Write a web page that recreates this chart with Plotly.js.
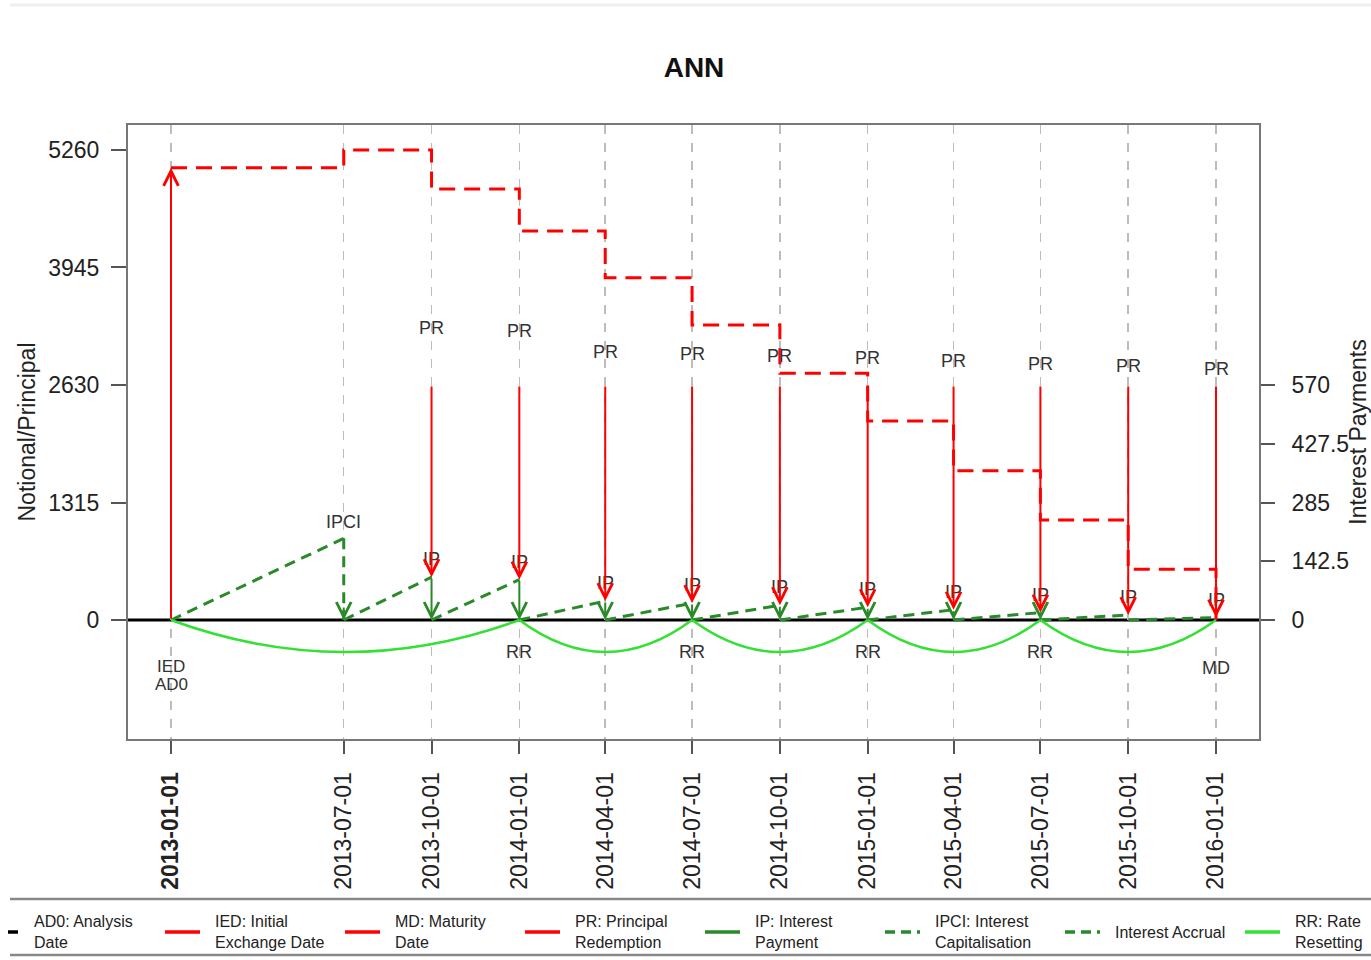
<!DOCTYPE html>
<html>
<head>
<meta charset="utf-8">
<script src="https://cdn.plot.ly/plotly-3.0.1.min.js"></script>
<style>html,body{margin:0;padding:0;background:#fff}#chart{width:1371px;height:960px}</style>
</head>
<body>
<div id="chart"></div>
<script>
// ---------------- data ----------------
const tickDates = ['2013-01-01','2013-07-01','2013-10-01','2014-01-01','2014-04-01','2014-07-01','2014-10-01','2015-01-01','2015-04-01','2015-07-01','2015-10-01','2016-01-01'];
const tickLabels = ['<b>2013-01-01</b>','2013-07-01','2013-10-01','2014-01-01','2014-04-01','2014-07-01','2014-10-01','2015-01-01','2015-04-01','2015-07-01','2015-10-01','2016-01-01'];

const notionalDates = ['2013-01-01','2013-07-01','2013-10-01','2014-01-01','2014-04-01','2014-07-01','2014-10-01','2015-01-01','2015-04-01','2015-07-01','2015-10-01','2016-01-01'];
const notionalValues = [5060,5260,4824,4353,3831,3301,2761,2227,1671,1119,567,0];

const iedDate = '2013-01-01';
const iedValue = 5060;
const ipciDate = '2013-07-01';
const ipciValue = 198;
const mdDate = '2016-01-01';

const ipDates = ['2013-10-01','2014-01-01','2014-04-01','2014-07-01','2014-10-01','2015-01-01','2015-04-01','2015-07-01','2015-10-01','2016-01-01'];
const ipValues = [104,98,46,41,36,31,25,18,12,6];
const prDates = ['2013-10-01','2014-01-01','2014-04-01','2014-07-01','2014-10-01','2015-01-01','2015-04-01','2015-07-01','2015-10-01','2016-01-01'];
const prTopValues = [570,570,570,570,570,570,570,570,570,570];

const accrualStart = ['2013-01-01','2013-07-01','2013-10-01','2014-01-01','2014-04-01','2014-07-01','2014-10-01','2015-01-01','2015-04-01','2015-07-01','2015-10-01'];
const accrualEnd = ['2013-07-01','2013-10-01','2014-01-01','2014-04-01','2014-07-01','2014-10-01','2015-01-01','2015-04-01','2015-07-01','2015-10-01','2016-01-01'];
const accrualValues = [198,104,98,46,41,36,31,25,18,12,6];

const rrStart = ['2013-01-01','2014-01-01','2014-07-01','2015-01-01','2015-07-01'];
const rrEnd = ['2014-01-01','2014-07-01','2015-01-01','2015-07-01','2016-01-01'];
const rrLabelDates = ['2014-01-01','2014-07-01','2015-01-01','2015-07-01'];

const leftTicks = [0,1315,2630,3945,5260];
const rightTicks = [0,142.5,285,427.5,570];
const rightTickLabels = ['0','142.5','285','427.5','570'];

const legendLabels = ['AD0: Analysis<br>Date','IED: Initial<br>Exchange Date','MD: Maturity<br>Date','PR: Principal<br>Redemption','IP: Interest<br>Payment','IPCI: Interest<br>Capitalisation','Interest Accrual','RR: Rate<br>Resetting'];
const legendColors = ['#000000','#ff0000','#ff0000','#ff0000','#2a8a2a','#2a8a2a','#2a8a2a','#33e033'];
const legendDash = ['solid','solid','solid','solid','solid','dash','dash','solid'];

// ---------------- styles / helpers ----------------
const FONT = 'Liberation Sans, Arial, Helvetica, sans-serif';
const RED = '#ff0000', DKGREEN = '#2a8a2a', LTGREEN = '#33e033', LBL = '#333333';
const ARC_DEPTH = -358;               // depth of rate-reset arcs (left axis units)
const t = d => Date.parse(d + 'T00:00:00Z');
const DAY = 86400000;
const xRange = [t('2013-01-01') - 45.06 * DAY, t('2016-01-01') + 45.06 * DAY];
const PL = 128, PR_ = 1259, PT = 125, PB = 739, W = 1371, H = 960;
const px2paperX = X => (X - PL) / (PR_ - PL);
const px2paperY = Y => (PB - Y) / (PB - PT);

// ---------------- traces ----------------
const traces = [];

// notional step (dashed red)
traces.push({
  x: notionalDates.map(t), y: notionalValues, yaxis: 'y', mode: 'lines',
  line: {color: RED, width: 3, dash: '16px,9px', shape: 'hv'}, hoverinfo: 'skip', showlegend: false
});

// interest accrual (dashed dark green), built from the accrual arrays
const ax_ = [], ay_ = [];
accrualStart.forEach((s, i) => { ax_.push(t(s), t(accrualEnd[i]), null); ay_.push(0, accrualValues[i], null); });
// IPCI dashed drop
ax_.push(t(ipciDate), t(ipciDate)); ay_.push(ipciValue, 0);
traces.push({
  x: ax_, y: ay_, yaxis: 'y2', mode: 'lines', connectgaps: false,
  line: {color: DKGREEN, width: 3, dash: '11px,7px'}, hoverinfo: 'skip', showlegend: false
});

// dummy trace to keep y2 active
traces.push({x: [t(mdDate)], y: [0], yaxis: 'y2', mode: 'markers', marker: {opacity: 0}, hoverinfo: 'skip', showlegend: false});

// ---------------- shapes ----------------
const shapes = [];
// rate-reset arcs
rrStart.forEach((s, i) => {
  const x0 = t(s), x1 = t(rrEnd[i]);
  shapes.push({type: 'path', xref: 'x', yref: 'y',
    path: `M${x0},0 Q${(x0 + x1) / 2},${2 * ARC_DEPTH} ${x1},0`,
    line: {color: LTGREEN, width: 2.5}, layer: 'above'});
});
// black zero line
shapes.push({type: 'line', xref: 'paper', yref: 'y', x0: 0, x1: 1, y0: 0, y1: 0, line: {color: '#000', width: 3}, layer: 'below'});
// faint top border
shapes.push({type: 'line', xref: 'paper', yref: 'paper', x0: px2paperX(10), x1: px2paperX(W), y0: px2paperY(5), y1: px2paperY(5), line: {color: '#eeeeee', width: 3}});
// legend frame
[899, 955].forEach(Y => shapes.push({type: 'line', xref: 'paper', yref: 'paper', x0: px2paperX(10), x1: px2paperX(W + 5), y0: px2paperY(Y), y1: px2paperY(Y), line: {color: '#888888', width: 2.5}}));

// ---------------- annotations ----------------
const ann = [];
const lab = (x, y, yref, text, yshift, size) => ann.push({x, y, xref: 'x', yref, text, showarrow: false, yshift,
  borderpad: 0, font: {family: FONT, size: size || 18, color: LBL}});

// labels
lab(t(iedDate), 0, 'y', 'IED', -46, 17);
lab(t(iedDate), 0, 'y', 'AD0', -64, 17);
lab(t(mdDate), 0, 'y', 'MD', -48);
rrLabelDates.forEach(d => lab(t(d), 0, 'y', 'RR', -32));
lab(t(ipciDate), ipciValue, 'y2', 'IPCI', 16);
ipDates.forEach((d, i) => lab(t(d), ipValues[i], 'y2', 'IP', 18));
prDates.forEach((d, i) => lab(t(d), prTopValues[i] + ipValues[i], 'y2', 'PR', 14));

const arrow = (x, y, yref, ay, color) => ann.push({
  x, y, xref: 'x', yref, ax: x, ay, axref: 'x', ayref: yref, text: '', showarrow: true,
  arrowhead: 5, arrowsize: 1.45, arrowwidth: 2, arrowcolor: color, standoff: 0, startstandoff: 0
});
// IP arrows (green, down to 0)
ipDates.forEach((d, i) => arrow(t(d), 0, 'y2', ipValues[i], DKGREEN));
// PR arrows (red, from top down to IP level)
prDates.forEach((d, i) => arrow(t(d), ipValues[i], 'y2', prTopValues[i], RED));
// IED arrow (red, up)
arrow(t(iedDate), iedValue, 'y', 0, RED);
// IPCI arrow head
ann.push({x: t(ipciDate), y: 0, xref: 'x', yref: 'y2', ax: 0, ay: -14, text: '', showarrow: true,
  arrowhead: 5, arrowsize: 1.45, arrowwidth: 2, arrowcolor: DKGREEN, standoff: 0});

// manual legend
legendLabels.forEach((txt, k) => {
  const lx0 = k === 0 ? 8 : 165 + 180 * (k - 1);
  const lx1 = k === 0 ? 18 : lx0 + 35;
  const tx = k === 0 ? 32 : 213 + 180 * (k - 1);
  shapes.push({type: 'line', xref: 'paper', yref: 'paper', x0: px2paperX(lx0), x1: px2paperX(lx1), y0: px2paperY(932), y1: px2paperY(932),
    line: {color: legendColors[k], width: 3.5, dash: legendDash[k] === 'dash' ? '10px,6px' : 'solid'}});
  ann.push({xref: 'paper', yref: 'paper', x: px2paperX(tx), y: px2paperY(932), xanchor: 'left', yanchor: 'middle', align: 'left',
    text: txt, showarrow: false, font: {family: FONT, size: 16, color: '#222'}});
});

// ---------------- layout ----------------
const layout = {
  width: W, height: H,
  margin: {l: PL, r: W - PR_, t: PT, b: H - PB, pad: 0},
  paper_bgcolor: '#fff', plot_bgcolor: '#fff',
  font: {family: FONT, color: '#222'},
  showlegend: false,
  title: {text: '<b>ANN</b>', x: px2paperX(694), xref: 'paper', xanchor: 'center', y: 1 - 67 / H, yanchor: 'middle', font: {family: FONT, size: 28, color: '#111'}},
  xaxis: {
    type: 'linear', range: xRange, tickvals: tickDates.map(t), ticktext: tickLabels, tickangle: -90,
    ticks: 'outside', ticklen: 13, tickwidth: 2, tickcolor: '#555',
    showgrid: true, gridcolor: '#bdbdbd', gridwidth: 1.5, griddash: 'dash',
    showline: true, linecolor: '#777', linewidth: 2, mirror: true, zeroline: false,
    tickfont: {family: FONT, size: 23, color: '#222'}, ticklabelstandoff: 9
  },
  yaxis: {
    range: [-1331.8, 5539.7], tickvals: leftTicks, ticktext: leftTicks.map(String),
    ticks: 'outside', ticklen: 15, tickwidth: 2, tickcolor: '#555',
    showgrid: false, zeroline: false, showline: true, linecolor: '#777', linewidth: 2, mirror: true,
    tickfont: {family: FONT, size: 23, color: '#222'}, ticklabelstandoff: 7,
    title: {text: 'Notional/Principal', font: {family: FONT, size: 23, color: '#222'}, standoff: 6}
  },
  yaxis2: {
    overlaying: 'y', side: 'right', range: [-288.6, 1200.6], tickvals: rightTicks, ticktext: rightTickLabels,
    ticks: 'outside', ticklen: 14, tickwidth: 2, tickcolor: '#555',
    showgrid: false, zeroline: false, showline: true, linecolor: '#777', linewidth: 2,
    tickfont: {family: FONT, size: 23, color: '#222'}, ticklabelstandoff: 12,
    title: {text: 'Interest Payments', font: {family: FONT, size: 23, color: '#222'}, standoff: 0}
  },
  shapes, annotations: ann
};

Plotly.newPlot('chart', traces, layout, {displayModeBar: false, staticPlot: true});
</script>
</body>
</html>
